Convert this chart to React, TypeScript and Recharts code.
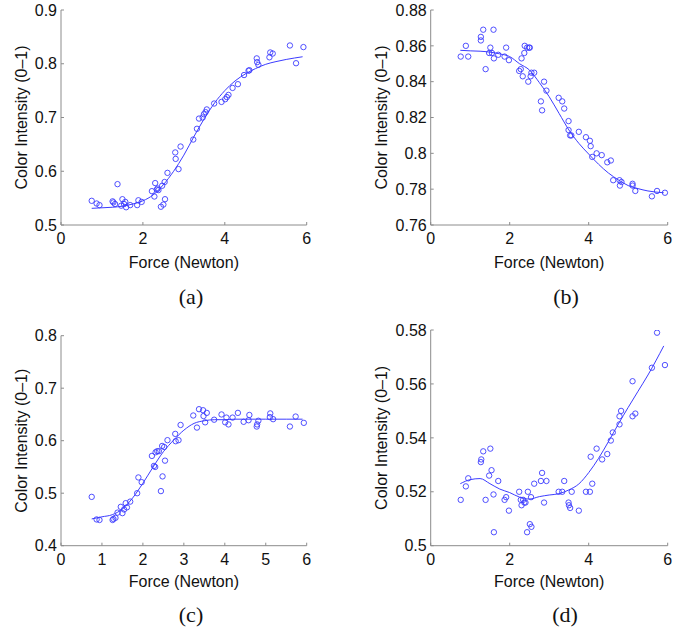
import React from 'react';
import { ComposedChart, Scatter, Line, XAxis, YAxis } from 'recharts';

// ---- Panel (a) ----
const aForce = [0.75,0.87,0.94,1.26,1.28,1.32,1.38,1.47,1.50,1.54,1.57,1.59,1.69,1.86,1.89,1.97,2.22,2.28,2.30,2.34,2.36,2.38,2.44,2.47,2.50,2.53,2.54,2.60,2.79,2.80,2.87,2.92,3.23,3.32,3.37,3.46,3.49,3.53,3.56,3.74,3.92,4.01,4.05,4.09,4.19,4.32,4.47,4.58,4.60,4.78,4.79,4.82,5.09,5.11,5.17,5.59,5.74,5.92];
const aIntensity = [0.545,0.540,0.537,0.544,0.542,0.539,0.576,0.536,0.548,0.539,0.543,0.533,0.537,0.537,0.546,0.543,0.563,0.553,0.578,0.566,0.568,0.565,0.534,0.573,0.538,0.580,0.548,0.597,0.635,0.623,0.604,0.646,0.659,0.679,0.698,0.700,0.706,0.710,0.715,0.726,0.729,0.734,0.738,0.742,0.755,0.762,0.779,0.787,0.788,0.810,0.803,0.798,0.812,0.821,0.819,0.834,0.801,0.831];

// ---- Panel (b) ----
const bForce = [0.76,0.89,0.95,1.27,1.27,1.33,1.39,1.48,1.51,1.55,1.59,1.60,1.71,1.87,1.91,1.98,2.24,2.28,2.30,2.33,2.37,2.38,2.44,2.49,2.51,2.47,2.53,2.55,2.62,2.87,2.93,2.79,2.82,3.24,3.33,3.38,3.49,3.49,3.53,3.56,3.75,3.93,4.03,4.05,4.09,4.20,4.33,4.47,4.56,4.62,4.78,4.79,4.83,5.11,5.11,5.18,5.60,5.73,5.93];
const bIntensity = [0.854,0.860,0.854,0.865,0.863,0.869,0.847,0.856,0.859,0.856,0.869,0.853,0.855,0.854,0.859,0.852,0.846,0.847,0.853,0.843,0.856,0.860,0.859,0.859,0.859,0.840,0.843,0.845,0.845,0.840,0.835,0.829,0.824,0.831,0.829,0.825,0.818,0.813,0.810,0.810,0.812,0.809,0.807,0.804,0.798,0.800,0.799,0.795,0.796,0.785,0.785,0.782,0.784,0.783,0.782,0.779,0.776,0.779,0.778];

// ---- Panel (c) ----
const cForce = [0.75,0.87,0.94,1.26,1.28,1.33,1.38,1.46,1.50,1.54,1.58,1.61,1.69,1.86,1.89,1.97,2.22,2.27,2.30,2.31,2.35,2.39,2.44,2.47,2.48,2.52,2.54,2.60,2.79,2.80,2.87,2.92,3.23,3.32,3.37,3.47,3.48,3.52,3.56,3.74,3.92,4.01,4.04,4.09,4.19,4.32,4.46,4.58,4.60,4.78,4.79,4.82,5.10,5.11,5.18,5.59,5.73,5.93];
const cIntensity = [0.493,0.450,0.449,0.449,0.451,0.453,0.463,0.474,0.462,0.469,0.481,0.473,0.484,0.500,0.530,0.521,0.571,0.552,0.550,0.578,0.580,0.580,0.504,0.590,0.532,0.588,0.562,0.601,0.613,0.599,0.601,0.630,0.648,0.625,0.660,0.658,0.647,0.635,0.653,0.640,0.650,0.635,0.644,0.631,0.644,0.653,0.636,0.639,0.649,0.627,0.631,0.638,0.645,0.652,0.641,0.627,0.646,0.634];

// ---- Panel (d) ----
const dForce = [0.76,0.89,0.95,1.27,1.28,1.33,1.39,1.48,1.51,1.54,1.59,1.60,1.71,1.87,1.91,1.98,2.24,2.28,2.30,2.34,2.37,2.40,2.44,2.46,2.51,2.54,2.55,2.62,2.82,2.79,2.87,2.93,3.24,3.33,3.38,3.49,3.50,3.53,3.57,3.75,3.93,4.03,4.05,4.09,4.20,4.34,4.47,4.56,4.61,4.78,4.78,4.82,5.11,5.11,5.18,5.60,5.73,5.93];
const dIntensity = [0.517,0.522,0.525,0.531,0.532,0.535,0.517,0.526,0.536,0.528,0.519,0.505,0.524,0.517,0.518,0.513,0.520,0.517,0.515,0.517,0.516,0.516,0.505,0.520,0.508,0.518,0.507,0.523,0.527,0.524,0.516,0.524,0.520,0.520,0.524,0.516,0.515,0.514,0.520,0.513,0.520,0.520,0.533,0.523,0.536,0.532,0.534,0.539,0.542,0.545,0.548,0.550,0.548,0.561,0.549,0.566,0.579,0.567];

// ---- Fitted curves ----
const fitForce = [0.75,1,1.25,1.5,1.75,2,2.25,2.5,2.75,3,3.25,3.5,3.75,4,4.25,4.5,4.75,5,5.25,5.5,5.9];
const aFit = [0.531,0.532,0.533,0.535,0.539,0.545,0.556,0.575,0.600,0.630,0.665,0.698,0.727,0.750,0.768,0.781,0.791,0.799,0.804,0.808,0.813];
const bFit = [0.8575,0.8572,0.857,0.8565,0.8555,0.854,0.850,0.8465,0.8395,0.8316,0.8223,0.813,0.8056,0.7996,0.7939,0.789,0.7852,0.782,0.7803,0.779,0.778];
const cFit = [0.451,0.455,0.459,0.470,0.491,0.519,0.550,0.579,0.601,0.620,0.633,0.638,0.640,0.640,0.641,0.641,0.641,0.641,0.641,0.641,0.641];
const dFit = [0.523,0.5245,0.5249,0.523,0.521,0.5197,0.518,0.5173,0.5182,0.5188,0.5193,0.5207,0.5229,0.5271,0.5324,0.5386,0.5451,0.5513,0.5573,0.5633,0.5741];

// ---- Ticks & labels ----
const xTicksEven = [0, 2, 4, 6];
const xTicksAll = [0, 1, 2, 3, 4, 5, 6];
const aTicks = [0.5, 0.6, 0.7, 0.8, 0.9];
const bTicks = [0.76, 0.78, 0.8, 0.82, 0.84, 0.86, 0.88];
const cTicks = [0.4, 0.5, 0.6, 0.7, 0.8];
const dTicks = [0.5, 0.52, 0.54, 0.56, 0.58];
const captions = ['(a)', '(b)', '(c)', '(d)'];
const xTitle = 'Force (Newton)';
const yTitle = 'Color Intensity (0\u20131)';

const zip = (xs: number[], ys: number[]) => xs.map((x, i) => ({ x, y: ys[i] }));

const BLUE = '#3c3cff';
const AXIS = '#8c8c8c';
const TEXT = '#111';
const FONT = '"Liberation Sans", Arial, Helvetica, sans-serif';
const SERIF = '"Liberation Serif", "Times New Roman", Times, serif';
const W = 344;
const H = 316;

function YTitle(props: any) {
  const vb = props.viewBox || { x: 0, y: 0, width: 0, height: 0 };
  const cx = vb.x + vb.width - props.dist;
  const cy = vb.y + vb.height / 2;
  return (
    <text x={cx} y={cy} transform={`rotate(-90 ${cx} ${cy})`} textAnchor="middle"
      dominantBaseline="central" fontSize={16} fontFamily={FONT} fill={TEXT}>{yTitle}</text>
  );
}

function XTitle(props: any) {
  const vb = props.viewBox || { x: 0, y: 0, width: 0, height: 0 };
  const cx = vb.x + vb.width / 2;
  const cy = vb.y + props.off;
  return (
    <text x={cx} y={cy} textAnchor="middle" dominantBaseline="central"
      fontSize={16} fontFamily={FONT} fill={TEXT}>{xTitle}</text>
  );
}

const Ring = (p: any) => (
  <circle cx={p.cx} cy={p.cy} r={2.7} fill="none" stroke={BLUE} strokeWidth={0.9} />
);

const fmt = (v: number) => String(Number(v.toFixed(2)));

function Panel(props: any) {
  const { left, top, plotLeft, plotTop, plotRight, plotBottom, points, fit, yTicks, xTicks, dist, xOff } = props;
  return (
    <div style={{ position: 'absolute', left, top, width: W, height: H }}>
      <ComposedChart width={W} height={H}
        margin={{ top: plotTop, right: W - plotRight, bottom: 0, left: 0 }}>
        <XAxis type="number" dataKey="x" domain={[0, 6]} ticks={xTicks} interval={0}
          height={H - plotBottom} axisLine={{ stroke: AXIS }} tickLine={{ stroke: AXIS }}
          tickSize={-3} tickMargin={11}
          tick={{ fontSize: 16, fill: TEXT, fontFamily: FONT }}
          label={<XTitle off={xOff} />} />
        <YAxis type="number" dataKey="y" domain={[yTicks[0], yTicks[yTicks.length - 1]]}
          ticks={yTicks} interval={0} width={plotLeft} allowDataOverflow
          axisLine={{ stroke: AXIS }} tickLine={{ stroke: AXIS }}
          tickSize={-3} tickMargin={7} tickFormatter={fmt}
          tick={{ fontSize: 16, fill: TEXT, fontFamily: FONT }}
          label={<YTitle dist={dist} />} />
        <Scatter data={points} dataKey="y" shape={Ring} isAnimationActive={false} />
        <Line data={fit} dataKey="y" type="monotone" dot={false} activeDot={false}
          stroke={BLUE} strokeWidth={1} isAnimationActive={false} />
      </ComposedChart>
    </div>
  );
}

function Caption({ text, x, y }: any) {
  return (
    <div style={{ position: 'absolute', left: x, top: y, transform: 'translate(-50%, -50%)',
      fontFamily: SERIF, fontSize: 22, lineHeight: 1, color: TEXT, whiteSpace: 'nowrap' }}>{text}</div>
  );
}

export default function App() {
  return (
    <div style={{ position: 'absolute', left: 0, top: 0, width: 688, height: 632, background: '#fff', overflow: 'hidden' }}>
      <Panel left={0} top={0} plotLeft={61} plotTop={10} plotRight={306.7} plotBottom={225}
        points={zip(aForce, aIntensity)} fit={zip(fitForce, aFit)} yTicks={aTicks} xTicks={xTicksEven} dist={39.3} xOff={37} />
      <Panel left={344} top={0} plotLeft={86.7} plotTop={10} plotRight={323.7} plotBottom={225}
        points={zip(bForce, bIntensity)} fit={zip(fitForce, bFit)} yTicks={bTicks} xTicks={xTicksEven} dist={49} xOff={37} />
      <Panel left={0} top={316} plotLeft={61} plotTop={19.7} plotRight={306.7} plotBottom={229.7}
        points={zip(cForce, cIntensity)} fit={zip(fitForce, cFit)} yTicks={cTicks} xTicks={xTicksAll} dist={39.3} xOff={36} />
      <Panel left={344} top={316} plotLeft={86.7} plotTop={14} plotRight={323.7} plotBottom={229.7}
        points={zip(dForce, dIntensity)} fit={zip(fitForce, dFit)} yTicks={dTicks} xTicks={xTicksEven} dist={49} xOff={36} />
      <Caption text={captions[0]} x={191} y={297} />
      <Caption text={captions[1]} x={566} y={297} />
      <Caption text={captions[2]} x={191} y={615} />
      <Caption text={captions[3]} x={565} y={615} />
    </div>
  );
}
